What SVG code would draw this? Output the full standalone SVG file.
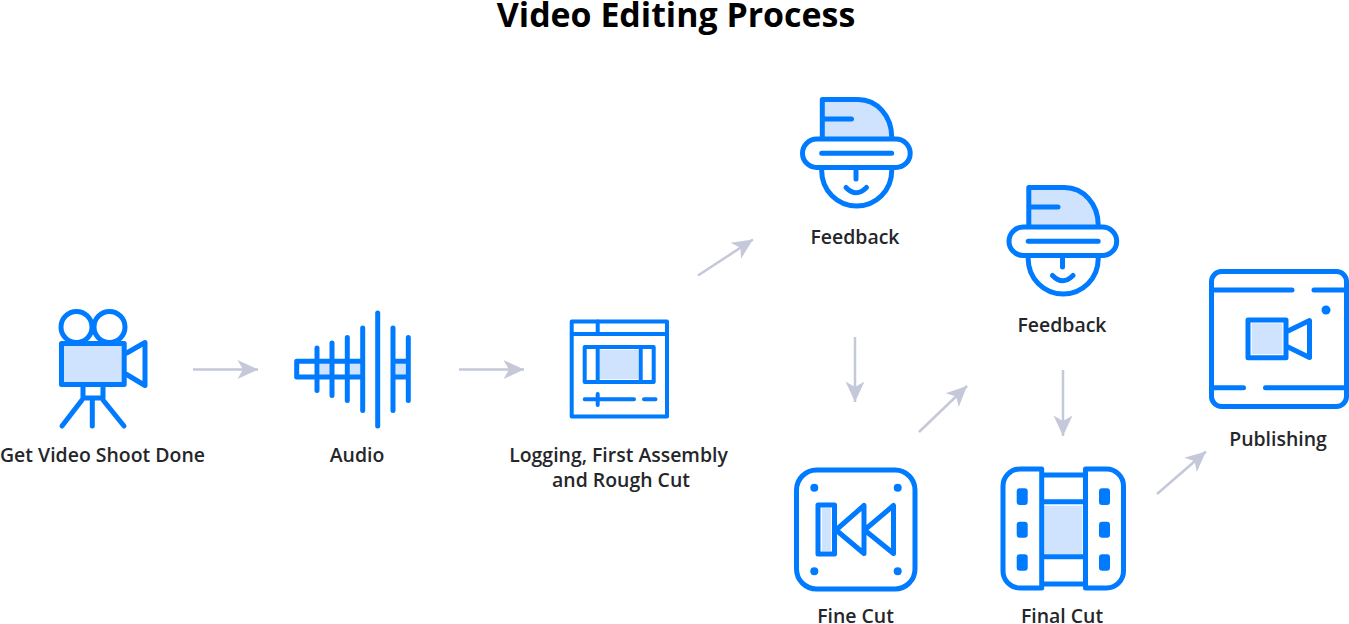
<svg xmlns="http://www.w3.org/2000/svg" width="1349" height="624" viewBox="0 0 1349 624">
<defs>
<marker id="ah" viewBox="0 0 22 20" markerWidth="22" markerHeight="20" refX="21.5" refY="10" orient="auto" markerUnits="userSpaceOnUse"><path d="M1 0.5 L21.5 10 L1 19.5 L6.5 10 Z" fill="#c5c8d8"/></marker>
<g id="hat">
<path class="f" d="M822.3 137V99.5H858C877 99.5 891.7 116 891.7 137Z"/>
<path class="s" d="M822.3 137V99.5H858C877 99.5 891.7 116 891.7 137M822.3 119H851.5"/>
<rect class="s" x="802.5" y="139" width="107.7" height="28.5" rx="14.25"/>
<path class="s" d="M821.7 153.3H891.7M821.7 168V171a35 35 0 0 0 70 0V168M856 168V179M846 187.5Q856 198 866.5 187.5"/>
</g>
</defs>
<style>
.s{fill:none;stroke:#007bff;stroke-width:5;stroke-linecap:round;stroke-linejoin:round}
.f{fill:#cfe3ff;stroke:none}
.d{fill:#007bff;stroke:none}
.c{fill:none;stroke:#c5c8d8;stroke-width:2.5;marker-end:url(#ah)}
text{font-family:"Open Sans","Liberation Sans",sans-serif;fill:#25262a;text-anchor:middle}
.l{font-size:19.45px;font-weight:600}
.t{font-size:33.9px;font-weight:700;fill:#000}
</style>
<rect width="1349" height="624" fill="#fff"/>
<text class="t" x="676" y="27">Video Editing Process</text>
<g id="connectors">
<path class="c" d="M193 369.5H258"/>
<path class="c" d="M459 369.5H524"/>
<path class="c" d="M698 275.5L753 239.5"/>
<path class="c" d="M855 337V402"/>
<path class="c" d="M919 432L967 386"/>
<path class="c" d="M1063 370V436"/>
<path class="c" d="M1157 494L1206 451.5"/>
</g>
<g id="node-shoot">
<rect class="f" x="64" y="346" width="58" height="36"/>
<circle class="s" cx="76.5" cy="327" r="15.5"/>
<circle class="s" cx="109.5" cy="327" r="15.5"/>
<rect class="s" x="61.5" y="343.5" width="62.7" height="41"/>
<path class="s" d="M126.7 353L145 342.5V385.5L126.7 374.5M83 387V398H103V387M92.3 398V426M82 400L62 426M103 400L124 426"/>
<text class="l" x="102.5" y="462">Get Video Shoot Done</text>
</g>
<g id="node-audio">
<rect class="f" x="320" y="363.7" width="10" height="11.3"/>
<rect class="f" x="350" y="363.7" width="10" height="11.3"/>
<rect class="f" x="395.7" y="363.7" width="10" height="11.3"/>
<path class="s" d="M362.7 361.3H296.7V377H362.7M393 361.3H408.3M393 377H408.3M317 348V390.5M332 343V395.5M347.3 337.5V400.5M362.7 328V410.5M377.7 313V426M393 328V410.5M408.3 337.5V400.5"/>
<text class="l" x="357" y="462">Audio</text>
</g>
<g id="node-logging">
<rect class="f" x="600" y="350" width="38.3" height="29"/>
<rect class="s" style="stroke-width:4" x="571.7" y="321.5" width="95.3" height="95"/>
<rect class="s" style="stroke-width:4" x="584.7" y="347" width="69" height="35"/>
<path class="s" style="stroke-width:4" d="M571.7 334H667M597.7 321.5V334M597.7 347V382M640.7 347V382M584.7 399.3H634M597.7 394V405M644 399.3H655.5"/>
<text class="l" x="618.5" y="462">Logging, First Assembly</text>
<text class="l" x="621" y="487">and Rough Cut</text>
</g>
<g id="node-feedback-1">
<use href="#hat"/>
<text class="l" x="855" y="244">Feedback</text>
</g>
<g id="node-feedback-2">
<use href="#hat" x="206.5" y="88"/>
<text class="l" x="1062" y="332">Feedback</text>
</g>
<g id="node-finecut">
<rect class="f" x="822" y="508" width="9" height="43"/>
<rect class="s" x="796.5" y="470" width="118.5" height="119" rx="20"/>
<rect class="s" x="818" y="505" width="16.5" height="49"/>
<path class="s" d="M864 505.5V553.5L836 530ZM893.5 505.5V553.5L864.5 530Z"/>
<circle class="d" cx="814.3" cy="487.7" r="4"/><circle class="d" cx="897.7" cy="487.7" r="4"/>
<circle class="d" cx="814.3" cy="571.3" r="4"/><circle class="d" cx="897.7" cy="571.3" r="4"/>
<text class="l" x="855.5" y="623">Fine Cut</text>
</g>
<g id="node-finalcut">
<rect class="f" x="1044.3" y="505.7" width="38" height="48.3"/>
<path class="s" d="M1041.7 469H1020A17 17 0 0 0 1003 486V571A17 17 0 0 0 1020 588H1041.7ZM1085.5 469H1106.5A17 17 0 0 1 1123.5 486V571A17 17 0 0 1 1106.5 588H1085.5ZM1041.7 475H1085.5M1041.7 501.7H1085.5M1041.7 556.7H1085.5M1041.7 584H1085.5"/>
<rect class="d" x="1016.7" y="488.3" width="11" height="16.7" rx="3"/><rect class="d" x="1016.7" y="521.7" width="11" height="16" rx="3"/><rect class="d" x="1016.7" y="554.3" width="11" height="16.4" rx="3"/>
<rect class="d" x="1099" y="488.3" width="11" height="16.7" rx="3"/><rect class="d" x="1099" y="521.7" width="11" height="16" rx="3"/><rect class="d" x="1099" y="554.3" width="11" height="16.4" rx="3"/>
<text class="l" x="1062" y="623">Final Cut</text>
</g>
<g id="node-publishing">
<rect class="f" x="1251.7" y="323.3" width="30.6" height="30.7"/>
<rect class="s" x="1211.5" y="271.5" width="135" height="135" rx="10"/>
<path class="s" d="M1211.5 290H1292M1314 290H1346.5M1211.5 387.7H1243.5M1265.5 387.7H1346.5"/>
<rect class="s" x="1248" y="320" width="38" height="37.7"/>
<path class="s" d="M1288 331L1309.5 320.5V357.5L1288 347"/>
<circle class="d" cx="1326" cy="310" r="4.5"/>
<text class="l" x="1278" y="446">Publishing</text>
</g>
</svg>
